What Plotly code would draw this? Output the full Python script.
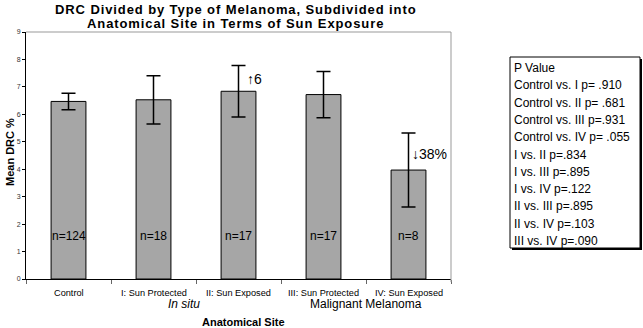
import plotly.graph_objects as go

categories = ["Control", "I: Sun Protected", "II: Sun Exposed", "III: Sun Protected", "IV: Sun Exposed"]
mean_drc = [6.47, 6.53, 6.84, 6.72, 3.97]
err = [0.30, 0.88, 0.94, 0.84, 1.35]
n_labels = ["n=124", "n=18", "n=17", "n=17", "n=8"]
group_labels = ["In situ", "Malignant Melanoma"]
p_values = ["P Value", "Control vs. I p= .910", "Control vs. II p= .681", "Control vs. III p=.931",
            "Control vs. IV p= .055", "I vs. II p=.834", "I vs. III p=.895", "I vs. IV p=.122",
            "II vs. III p=.895", "II vs. IV p=.103", "III vs. IV p=.090"]
change_labels = ["↑6", "↓38%"]

FONT = "Liberation Sans, Arial, sans-serif"
L, R, T, B = 26, 192, 32, 49
W, H = 643, 328
PW, PH = W - L - R, H - T - B

def px_x(p):
    return (p - L) / PW

def px_y(p):
    return (H - B - p) / PH

xs = list(range(len(categories)))

fig = go.Figure()
fig.add_trace(go.Bar(
    x=xs, y=mean_drc, width=0.41,
    marker=dict(color="#a6a6a6", line=dict(color="#000000", width=1)),
    error_y=dict(type="data", array=err, visible=True, color="#000000", thickness=1.5, width=7),
    hoverinfo="skip",
))

ann = []
for i, t in enumerate(n_labels):
    ann.append(dict(x=i, y=1.56, xref="x", yref="y", text=t, showarrow=False,
                    font=dict(size=12, color="#000"), xanchor="center", yanchor="middle"))
for i, t in enumerate(categories):
    ann.append(dict(x=i, y=0, xref="x", yref="paper", text=t, showarrow=False, yshift=-14,
                    font=dict(size=9.2, color="#000"), xanchor="center", yanchor="middle"))
ann.append(dict(x=1.36, y=0, xref="x", yref="paper", text="<i>" + group_labels[0] + "</i>", showarrow=False,
                yshift=-25, font=dict(size=12, color="#000"), xanchor="center", yanchor="middle"))
ann.append(dict(x=3.5, y=0, xref="x", yref="paper", text=group_labels[1], showarrow=False,
                yshift=-25, font=dict(size=12, color="#000"), xanchor="center", yanchor="middle"))
ann.append(dict(x=2.08, y=7.3, xref="x", yref="y", text=change_labels[0], showarrow=False,
                font=dict(size=14, color="#000"), xanchor="left", yanchor="middle"))
ann.append(dict(x=4.02, y=4.55, xref="x", yref="y", text=change_labels[1], showarrow=False,
                font=dict(size=14, color="#000"), xanchor="left", yanchor="middle"))
title_style = '<span style="letter-spacing:0.9px"><b>{}</b></span>'
ann.append(dict(x=px_x(235), y=px_y(9.5), xref="paper", yref="paper", showarrow=False,
                text=title_style.format("DRC Divided by Type of Melanoma, Subdivided into"),
                font=dict(size=13, color="#000"), xanchor="center", yanchor="middle"))
ann.append(dict(x=px_x(235), y=px_y(24), xref="paper", yref="paper", showarrow=False,
                text=title_style.format("Anatomical Site in Terms of Sun Exposure"),
                font=dict(size=13, color="#000"), xanchor="center", yanchor="middle"))
ann.append(dict(x=px_x(243), y=px_y(322), xref="paper", yref="paper", showarrow=False,
                text="<b>Anatomical Site</b>", font=dict(size=11, color="#000"),
                xanchor="center", yanchor="middle"))
ann.append(dict(x=px_x(10), y=px_y(152), xref="paper", yref="paper", showarrow=False,
                text="<b>Mean DRC %</b>", textangle=-90, font=dict(size=11, color="#000"),
                xanchor="center", yanchor="middle"))
for k, t in enumerate(p_values):
    ann.append(dict(x=px_x(512), y=px_y(68 + 17.3 * k), xref="paper", yref="paper", showarrow=False,
                    text=t, font=dict(size=12, color="#000"), xanchor="left", yanchor="middle"))

shapes = [
    dict(type="line", xref="paper", yref="paper", x0=0, x1=1, y0=1, y1=1, line=dict(color="#999999", width=1)),
    dict(type="line", xref="paper", yref="paper", x0=1, x1=1, y0=px_y(282), y1=1, line=dict(color="#999999", width=1)),
    dict(type="rect", xref="paper", yref="paper", x0=px_x(512), x1=px_x(642), y0=px_y(250), y1=px_y(59),
         line=dict(width=0), fillcolor="#000000", layer="below"),
    dict(type="rect", xref="paper", yref="paper", x0=px_x(510), x1=px_x(640), y0=px_y(248), y1=px_y(57),
         line=dict(color="#000000", width=1), fillcolor="#ffffff", layer="below"),
]

fig.update_layout(
    width=W, height=H,
    margin=dict(l=L, r=R, t=T, b=B, pad=0),
    paper_bgcolor="#ffffff", plot_bgcolor="#ffffff",
    showlegend=False,
    font=dict(family=FONT, color="#000"),
    annotations=ann, shapes=shapes,
    xaxis=dict(range=[-0.5, 4.5], tickvals=[-0.5, 0.5, 1.5, 2.5, 3.5, 4.5], ticktext=[""] * 6,
               ticks="outside", ticklen=4, tickcolor="#666", showgrid=False, zeroline=False,
               showline=True, linecolor="#000", linewidth=1, fixedrange=True),
    yaxis=dict(range=[0, 9], dtick=1, ticks="outside", ticklen=3, tickcolor="#000",
               tickfont=dict(size=7, color="#333"), showgrid=False, zeroline=False,
               showline=True, linecolor="#000", linewidth=1, fixedrange=True),
)

fig.write_html("out.html", config={"displayModeBar": False},
               post_script="document.body.style.margin='0';document.body.style.overflow='hidden';")
